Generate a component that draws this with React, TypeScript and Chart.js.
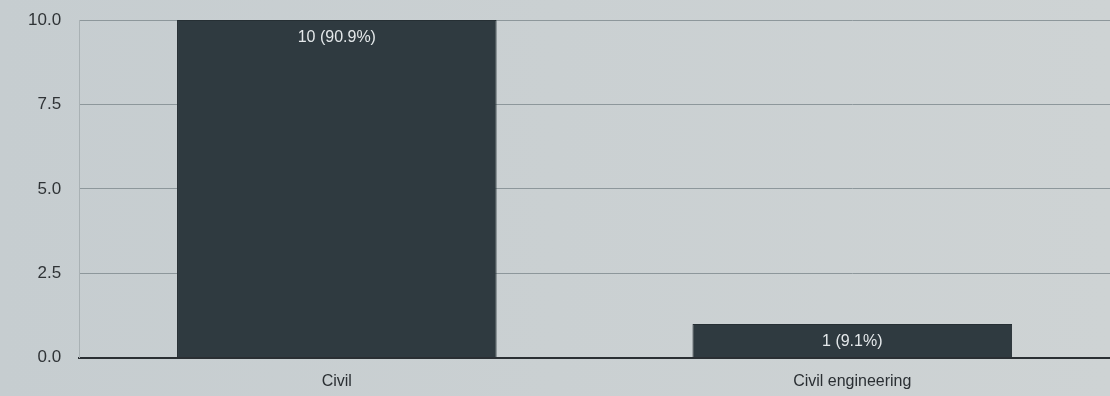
import React, { useEffect, useRef } from "react";
import { Chart, registerables } from "chart.js";

Chart.register(...registerables);

const categories = ["Civil", "Civil engineering"];
const counts = [10, 1];
const percentLabels = ["90.9%", "9.1%"];
const yTicks = [0, 2.5, 5, 7.5, 10];

const bgPlugin = {
  id: "bgFill",
  beforeDraw(chart: any) {
    const { ctx, width, height } = chart;
    ctx.save();
    const g = ctx.createLinearGradient(0, 0, width, 0);
    g.addColorStop(0, "#c6cdd0");
    g.addColorStop(1, "#ced3d4");
    ctx.fillStyle = g;
    ctx.fillRect(0, 0, width, height);
    ctx.restore();
  },
};

const valueLabelPlugin = {
  id: "valueLabels",
  afterDatasetsDraw(chart: any) {
    const { ctx } = chart;
    const meta = chart.getDatasetMeta(0);
    ctx.save();
    ctx.font = "16px 'Liberation Sans', Arial, sans-serif";
    ctx.fillStyle = "#e4e8ea";
    ctx.textAlign = "center";
    ctx.textBaseline = "top";
    meta.data.forEach((bar: any, i: number) => {
      ctx.fillText(`${counts[i]} (${percentLabels[i]})`, bar.x, bar.y + 10);
    });
    ctx.restore();
  },
};

export default function App() {
  const ref = useRef<HTMLCanvasElement>(null);
  useEffect(() => {
    document.body.style.margin = "0";
    const chart = new Chart(ref.current!, {
      type: "bar",
      data: {
        labels: categories,
        datasets: [
          {
            data: counts,
            backgroundColor: "#2f3a40",
            borderColor: "#262f34",
            borderWidth: 1,
            barPercentage: 0.62,
            categoryPercentage: 1,
          },
        ],
      },
      options: {
        animation: false,
        responsive: false,
        layout: { padding: { top: 20, right: 0, bottom: -9, left: 10 } },
        plugins: { legend: { display: false }, tooltip: { enabled: false } },
        scales: {
          x: {
            grid: { display: false, drawTicks: false },
            border: { color: "#2a2f33", width: 2 },
            ticks: {
              color: "#2a2f33",
              font: { size: 16, family: "'Liberation Sans', Arial, sans-serif" },
              padding: 14,
            },
          },
          y: {
            min: 0,
            max: 10,
            afterBuildTicks(axis: any) {
              axis.ticks = yTicks.map((v) => ({ value: v }));
            },
            afterFit(axis: any) {
              axis.paddingTop = 0;
              axis.paddingBottom = 0;
            },
            grid: { color: "#8d979b", lineWidth: 1, drawTicks: false },
            border: { color: "#a9b1b4", width: 1 },
            ticks: {
              color: "#2f3336",
              font: { size: 17, family: "'Liberation Sans', Arial, sans-serif" },
              padding: 18,
              callback: (v: any) => Number(v).toFixed(1),
            },
          },
        },
      },
      plugins: [bgPlugin, valueLabelPlugin],
    });
    return () => chart.destroy();
  }, []);
  return <canvas ref={ref} width={1110} height={396} style={{ display: "block" }} />;
}
